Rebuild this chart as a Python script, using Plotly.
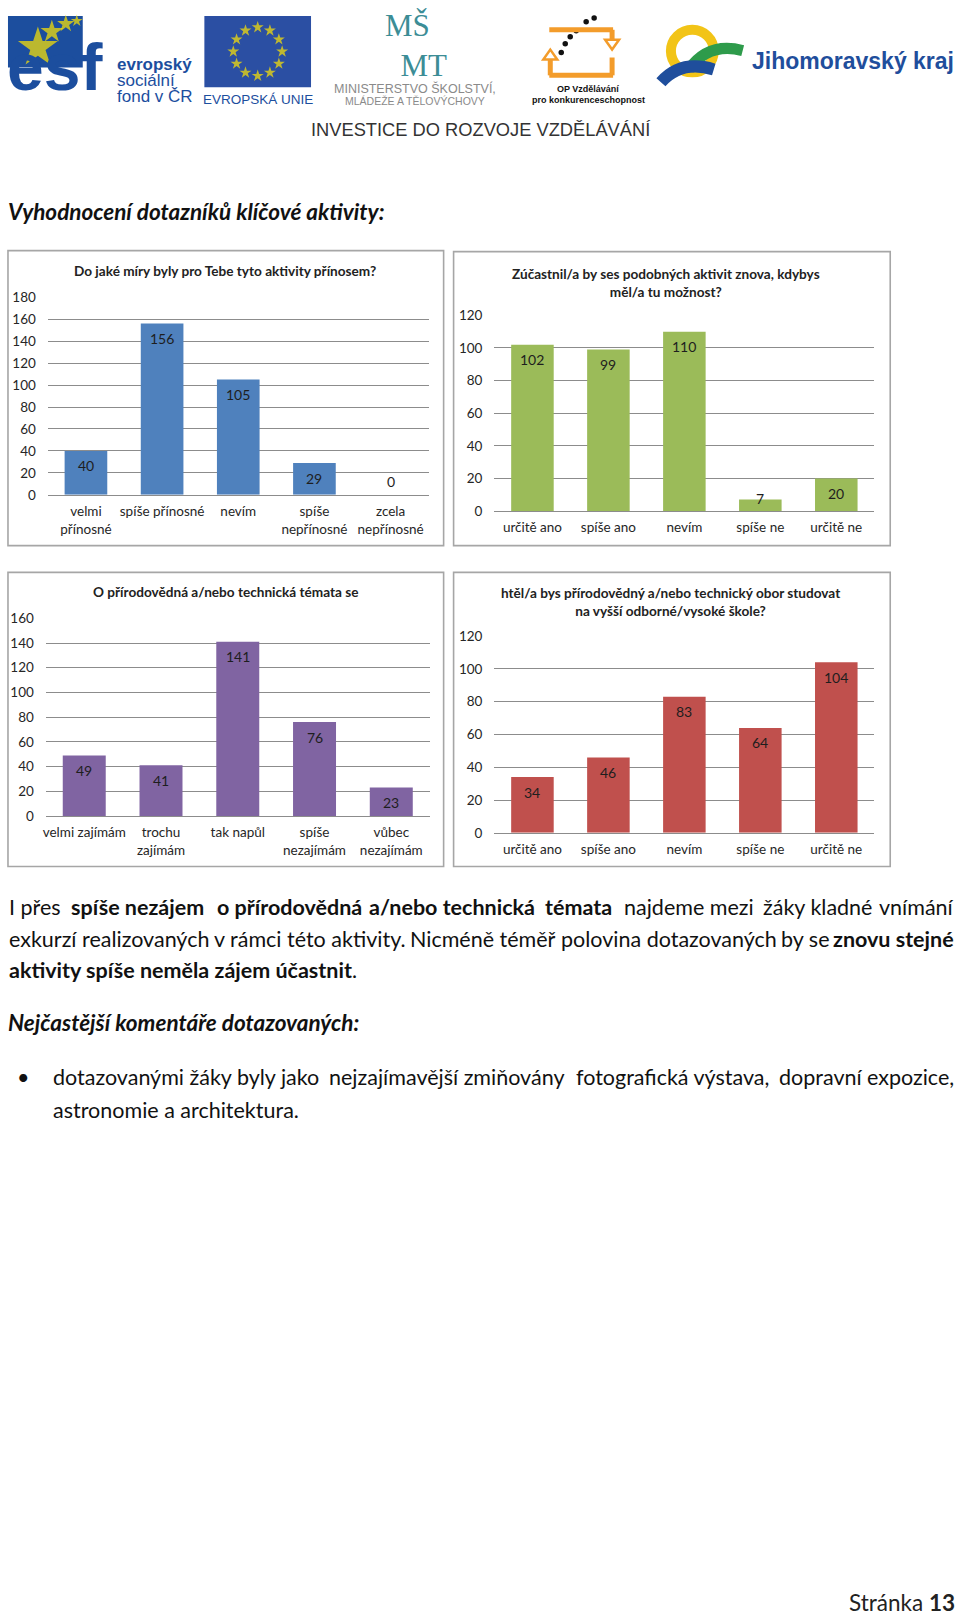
import math
import plotly.graph_objects as go

# ---------------- data ----------------
title1 = "Do jaké míry byly pro Tebe tyto aktivity přínosem?"
cats1 = ["velmi<br>přínosné", "spíše přínosné", "nevím", "spíše<br>nepřínosné", "zcela<br>nepřínosné"]
vals1 = [40, 156, 105, 29, 0]
yticks1 = [0, 20, 40, 60, 80, 100, 120, 140, 160, 180]

title2 = "Zúčastnil/a by ses podobných aktivit znova, kdybys<br>měl/a tu možnost?"
cats2 = ["určitě ano", "spíše ano", "nevím", "spíše ne", "určitě ne"]
vals2 = [102, 99, 110, 7, 20]
yticks2 = [0, 20, 40, 60, 80, 100, 120]

title3 = "O přírodovědná a/nebo technická témata se"
cats3 = ["velmi zajímám", "trochu<br>zajímám", "tak napůl", "spíše<br>nezajímám", "vůbec<br>nezajímám"]
vals3 = [49, 41, 141, 76, 23]
yticks3 = [0, 20, 40, 60, 80, 100, 120, 140, 160]

title4 = "htěl/a bys přírodovědný a/nebo technický obor studovat<br>na vyšší odborné/vysoké škole?"
cats4 = ["určitě ano", "spíše ano", "nevím", "spíše ne", "určitě ne"]
vals4 = [34, 46, 83, 64, 104]
yticks4 = [0, 20, 40, 60, 80, 100, 120]

# ---------------- layout helpers ----------------
W, H = 960, 1624
FONT = "Lato"


def dx(a, b):
    return [a / W, b / W]


def dy(top, bottom):
    return [1 - bottom / H, 1 - top / H]


charts = [
    dict(title=title1, cats=cats1, vals=vals1, ticks=yticks1, color="#4F81BD",
         px=(45, 427), py=(291.7, 491.7), frame=(5, 245, 442, 543), tpos=(223, 266)),
    dict(title=title2, cats=cats2, vals=vals2, ticks=yticks2, color="#9BBB59",
         px=(493, 874), py=(310, 508), frame=(452, 246, 890, 543), tpos=(665, 278)),
    dict(title=title3, cats=cats3, vals=vals3, ticks=yticks3, color="#8064A2",
         px=(43, 428), py=(616, 816), frame=(5, 570, 442, 867), tpos=(223, 590)),
    dict(title=title4, cats=cats4, vals=vals4, ticks=yticks4, color="#C0504D",
         px=(493, 874), py=(634, 833), frame=(452, 570, 890, 867), tpos=(670, 600)),
]

TICKFONT = dict(family=FONT, size=13.5, color="#262626")

fig = go.Figure()
annotations = []
shapes = []
layout_axes = {}

for i, c in enumerate(charts, start=1):
    xa = "x" if i == 1 else f"x{i}"
    ya = "y" if i == 1 else f"y{i}"
    fig.add_trace(go.Bar(x=c["cats"], y=c["vals"], marker=dict(color=c["color"], line=dict(width=0)),
                         xaxis=xa, yaxis=ya, hoverinfo="x+y"))
    ymax = c["ticks"][-1]
    ppu = (c["py"][1] - c["py"][0]) / ymax
    layout_axes["xaxis" if i == 1 else f"xaxis{i}"] = dict(
        domain=dx(*c["px"]), anchor=ya, type="category", categoryorder="array",
        categoryarray=c["cats"], showgrid=False, showline=True, linecolor="#8C8C8C",
        linewidth=1, ticks="", tickfont=TICKFONT, ticklabelstandoff=4, fixedrange=True)
    layout_axes["yaxis" if i == 1 else f"yaxis{i}"] = dict(
        domain=dy(*c["py"]), anchor=xa, range=[0, ymax * 1.002], tickvals=c["ticks"],
        showgrid=True, gridcolor="#8C8C8C", gridwidth=1, zeroline=False, showline=False,
        ticks="", tickfont=TICKFONT, ticklabelstandoff=11, fixedrange=True)
    # data labels (inside end, kept above the baseline for short bars)
    for cat, v in zip(c["cats"], c["vals"]):
        annotations.append(dict(x=cat, y=v, xref=xa, yref=ya, text=str(v), showarrow=False,
                                yanchor="middle", yshift=max(-15, 13 - v * ppu),
                                font=dict(family=FONT, size=14, color="#1E1E1E")))
    # chart title
    annotations.append(dict(x=c["tpos"][0], y=c["tpos"][1], xref="x5", yref="y5", text="<b>" + c["title"] + "</b>",
                            showarrow=False, xanchor="center", yanchor="middle",
                            font=dict(family=FONT, size=13.6, color="#222222")))
    # chart frame
    fx0, fy0, fx1, fy1 = c["frame"]
    shapes.append(dict(type="rect", xref="x5", yref="y5", x0=fx0, y0=fy0, x1=fx1, y1=fy1,
                       line=dict(color="#A6A6A6", width=1.6), fillcolor="rgba(0,0,0,0)", layer="below"))

# ---------------- page overlay (logos and text) ----------------
layout_axes["xaxis5"] = dict(domain=[0, 1], range=[0, W], visible=False, anchor="y5", fixedrange=True)
layout_axes["yaxis5"] = dict(domain=[0, 1], range=[H, 0], visible=False, anchor="x5", fixedrange=True)

ESF_BLUE = "#1C4E9E"
YELLOW = "#FFE600"

# ESF logo
shapes.append(dict(type="rect", xref="x5", yref="y5", x0=5, y0=8, x1=80, y1=60,
                   fillcolor=ESF_BLUE, line=dict(width=0), layer="below"))
annotations.append(dict(x=2, y=99, xref="x5", yref="y5", text="<b>esf</b>", showarrow=False,
                        xanchor="left", yanchor="bottom",
                        font=dict(family="Liberation Sans", size=66, color=ESF_BLUE)))
star_x = [35, 49, 63, 74]
star_y = [40, 24, 16, 13]
star_s = [30, 17, 13, 9]
# EU flag stars
eu_cx, eu_cy, eu_r = 255.5, 44, 24.5
for k in range(12):
    a = 2 * math.pi * k / 12
    star_x.append(eu_cx + eu_r * math.cos(a))
    star_y.append(eu_cy + eu_r * math.sin(a))
    star_s.append(9)
shapes.append(dict(type="rect", xref="x5", yref="y5", x0=202, y0=8, x1=309, y1=80,
                   fillcolor="#2B4FA3", line=dict(width=0), layer="below"))
fig.add_trace(go.Scatter(x=star_x, y=star_y, mode="markers", xaxis="x5", yaxis="y5",
                         marker=dict(symbol="star", size=star_s, color=YELLOW, line=dict(width=0)),
                         hoverinfo="skip"))
for txt, yy in [("<b>evropský</b>", 57), ("sociální", 73), ("fond v ČR", 89)]:
    annotations.append(dict(x=112, y=yy, xref="x5", yref="y5", text=txt, showarrow=False,
                            xanchor="left", yanchor="middle",
                            font=dict(family="Liberation Sans", size=17, color=ESF_BLUE)))
annotations.append(dict(x=255.5, y=92, xref="x5", yref="y5", text="EVROPSKÁ UNIE", showarrow=False,
                        xanchor="center", yanchor="middle",
                        font=dict(family="Liberation Sans", size=13.5, color=ESF_BLUE)))

# MŠMT logo
TEAL = "#3C8D96"
annotations.append(dict(x=414, y=38, xref="x5", yref="y5",
                        text="MŠ\u00a0\u00a0<br>\u00a0\u00a0MT", showarrow=False,
                        xanchor="center", yanchor="middle", align="left",
                        font=dict(family="Liberation Serif", size=31, color=TEAL)))
annotations.append(dict(x=413, y=81, xref="x5", yref="y5", text="MINISTERSTVO ŠKOLSTVÍ,", showarrow=False,
                        xanchor="center", yanchor="middle",
                        font=dict(family="Liberation Sans", size=12.5, color="#8A8A8A")))
annotations.append(dict(x=413, y=94, xref="x5", yref="y5", text="MLÁDEŽE A TĚLOVÝCHOVY", showarrow=False,
                        xanchor="center", yanchor="middle",
                        font=dict(family="Liberation Sans", size=10.5, color="#8A8A8A")))

# OP logo
ORANGE = "#F39C2B"
for (x0, y0, x1, y1) in [(548, 22, 612, 22), (611, 22, 611, 32), (548, 68, 612, 68),
                         (549, 50, 549, 68), (611, 50, 611, 68)]:
    shapes.append(dict(type="line", xref="x5", yref="y5", x0=x0, y0=y0, x1=x1, y1=y1,
                       line=dict(color=ORANGE, width=5)))
shapes.append(dict(type="path", xref="x5", yref="y5", path="M 604,32 L 618,32 L 611,42 Z",
                   line=dict(color=ORANGE, width=2.5), fillcolor="white"))
shapes.append(dict(type="path", xref="x5", yref="y5", path="M 542,52 L 556,52 L 549,42 Z",
                   line=dict(color=ORANGE, width=2.5), fillcolor="white"))
fig.add_trace(go.Scatter(x=[560, 564, 569, 575, 585, 593], y=[45, 36, 29, 23, 14, 10],
                         mode="markers", xaxis="x5", yaxis="y5", hoverinfo="skip",
                         marker=dict(size=5.5, color="#111111")))
annotations.append(dict(x=587, y=82, xref="x5", yref="y5", text="<b>OP Vzdělávání</b>", showarrow=False,
                        xanchor="center", yanchor="middle",
                        font=dict(family="Liberation Sans", size=9, color="#111111")))
annotations.append(dict(x=587, y=93, xref="x5", yref="y5", text="<b>pro konkurenceschopnost</b>", showarrow=False,
                        xanchor="center", yanchor="middle",
                        font=dict(family="Liberation Sans", size=9, color="#111111")))

# Jihomoravský kraj logo
shapes.append(dict(type="circle", xref="x5", yref="y5", x0=670, y0=22, x1=713, y1=65,
                   line=dict(color="#F2C417", width=10), fillcolor="rgba(0,0,0,0)"))
shapes.append(dict(type="path", xref="x5", yref="y5", path="M 688,62 Q 708,34 742,43",
                   line=dict(color="#2E9B4B", width=11)))
shapes.append(dict(type="path", xref="x5", yref="y5", path="M 660,75 Q 680,52 713,62",
                   line=dict(color="#1F4E9C", width=12)))
annotations.append(dict(x=749, y=54, xref="x5", yref="y5", text="<b>Jihomoravský kraj</b>", showarrow=False,
                        xanchor="left", yanchor="middle",
                        font=dict(family="Liberation Sans", size=23, color="#1F4E9C")))

annotations.append(dict(x=479, y=123, xref="x5", yref="y5", text="INVESTICE DO ROZVOJE VZDĚLÁVÁNÍ",
                        showarrow=False, xanchor="center", yanchor="middle",
                        font=dict(family="Liberation Sans", size=18.3, color="#333333")))

# ---------------- body text ----------------
BODY_SIZE = 21.5
BODY = dict(family=FONT, size=BODY_SIZE, color="#111111")
HEAD = dict(family=FONT, size=22.5, color="#111111")

# justified lines: word groups with their approximate natural width at 21 px
just_line1 = [("I přes", 51), ("<b>spíše nezájem</b>", 134), ("<b>o přírodovědná</b>", 140),
              ("<b>a/nebo technická</b>", 163), ("<b>témata</b>", 68), ("najdeme mezi", 127),
              ("žáky kladné", 110), ("vnímání", 72)]
just_line2 = [("exkurzí realizovaných", 196), ("v rámci této aktivity.", 188), ("Nicméně téměř", 143),
              ("polovina dotazovaných", 211), ("by se", 53), ("<b>znovu stejné</b>", 116)]
just_bullet = [("dotazovanými žáky byly jako", 259), ("nejzajímavější zmiňovány", 230),
               ("fotografická výstava,", 187), ("dopravní", 80), ("expozice,", 83)]


def justify(chunks, y, x_left, x_right):
    scale = BODY_SIZE / 21.0
    widths = [w * scale for _, w in chunks]
    gap = (x_right - x_left - sum(widths)) / (len(chunks) - 1)
    x = x_left
    for k, ((txt, _), w) in enumerate(zip(chunks, widths)):
        last = k == len(chunks) - 1
        annotations.append(dict(x=x_right if last else x, y=y, xref="x5", yref="y5", text=txt,
                                showarrow=False, xanchor="right" if last else "left",
                                yanchor="middle", font=BODY))
        x += w + gap


justify(just_line1, 908, 4, 956)
justify(just_line2, 940, 4, 956)
justify(just_bullet, 1080, 48, 956)

body_lines = [
    ("<b><i>Vyhodnocení dotazníků klíčové aktivity:</i></b>", 3, 206, HEAD),
    ("<b>aktivity spíše neměla zájem účastnit</b>.", 4, 972, BODY),
    ("<b><i>Nejčastější komentáře dotazovaných:</i></b>", 3, 1025, HEAD),
    ("•", 12, 1080, BODY),
    ("astronomie a architektura.", 48, 1113, BODY),
]
for txt, xx, yy, fnt in body_lines:
    annotations.append(dict(x=xx, y=yy, xref="x5", yref="y5", text=txt, showarrow=False,
                            xanchor="left", yanchor="middle", font=fnt))

annotations.append(dict(x=957, y=1610, xref="x5", yref="y5", text="Stránka <b>13</b>", showarrow=False,
                        xanchor="right", yanchor="middle",
                        font=dict(family=FONT, size=22.5, color="#222222")))

fig.update_layout(
    width=W, height=H, margin=dict(l=0, r=0, t=0, b=0),
    paper_bgcolor="white", plot_bgcolor="rgba(0,0,0,0)",
    showlegend=False, bargap=0.44,
    font=dict(family=FONT, color="#222222"),
    annotations=annotations, shapes=shapes,
    **layout_axes,
)

fig.write_html("out.html", config={"displayModeBar": False},
               post_script="document.body.style.margin='0';document.body.style.overflow='hidden';")
